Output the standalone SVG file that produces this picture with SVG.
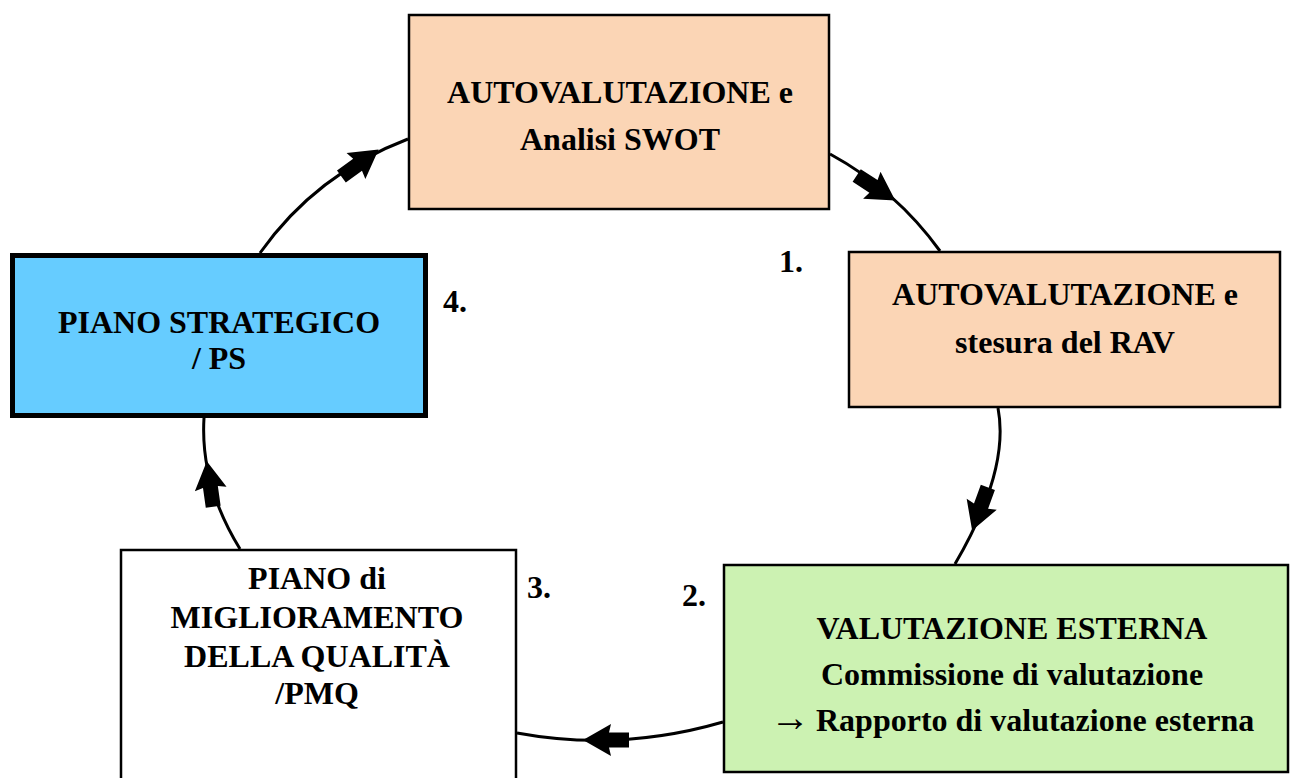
<svg xmlns="http://www.w3.org/2000/svg" width="1291" height="778" viewBox="0 0 1291 778">
<style>
.box{stroke:#000;stroke-width:2.5}
.t{font-family:"Liberation Serif","Times New Roman",serif;font-weight:bold;font-size:32px;fill:#000;text-anchor:middle}
.n{font-family:"Liberation Serif","Times New Roman",serif;font-weight:bold;font-size:32px;fill:#000}
.c{fill:none;stroke:#000;stroke-width:3}
</style>
<defs>
<path id="blk" d="M-23,-7.5 L-3,-7.5 L-5,-16 L23,0 L-5,16 L-3,7.5 L-23,7.5 Z" fill="#000"/>
</defs>
<rect width="1291" height="778" fill="#fff"/>
<g id="connectors">
<path class="c" d="M830,154 Q896,190 940,251"/>
<path class="c" d="M998,408 Q1010,470 955,564"/>
<path class="c" d="M723,722 Q620,752 517,733"/>
<path class="c" d="M240,549 Q200,484 204,418"/>
<path class="c" d="M260,253 Q316,174 408,139"/>
<use href="#blk" transform="translate(876,188) rotate(33)"/>
<use href="#blk" transform="translate(980,509) rotate(110)"/>
<use href="#blk" transform="translate(606,740) rotate(180)"/>
<use href="#blk" transform="translate(210,484) rotate(-98)"/>
<use href="#blk" transform="translate(360,163) rotate(-36)"/>
</g>
<g id="n-autovalutazione-swot">
<rect class="box" x="409" y="15" width="420" height="194" fill="#FBD5B5"/>
<text class="t" x="620" y="103">AUTOVALUTAZIONE e</text>
<text class="t" x="620" y="150">Analisi SWOT</text>
</g>
<g id="n-autovalutazione-rav">
<rect class="box" x="849" y="252" width="431" height="155" fill="#FBD5B5"/>
<text class="t" x="1065" y="305">AUTOVALUTAZIONE e</text>
<text class="t" x="1065" y="353">stesura del RAV</text>
</g>
<g id="n-valutazione-esterna">
<rect class="box" x="724" y="565" width="564" height="207" fill="#CCF2B2"/>
<text class="t" x="1012" y="639">VALUTAZIONE ESTERNA</text>
<text class="t" x="1012" y="685">Commissione di valutazione</text>
<text class="t" style="text-anchor:start" y="731"><tspan x="770" style="font-size:40px">→</tspan><tspan x="816">Rapporto di valutazione esterna</tspan></text>
</g>
<g id="n-pmq">
<rect class="box" x="121" y="550" width="395" height="240" fill="#fff"/>
<text class="t" x="317" y="589">PIANO di</text>
<text class="t" x="317" y="628">MIGLIORAMENTO</text>
<text class="t" x="317" y="667">DELLA QUALITÀ</text>
<text class="t" x="317" y="704">/PMQ</text>
</g>
<g id="n-piano-strategico">
<rect x="12.5" y="255.5" width="413" height="160" fill="#66CCFF" stroke="#000" stroke-width="5"/>
<text class="t" x="219" y="333">PIANO STRATEGICO</text>
<text class="t" x="219" y="369">/ PS</text>
</g>
<g id="labels">
<text class="n" x="779" y="272">1.</text>
<text class="n" x="682" y="606">2.</text>
<text class="n" x="527" y="598">3.</text>
<text class="n" x="443" y="312">4.</text>
</g>
</svg>
